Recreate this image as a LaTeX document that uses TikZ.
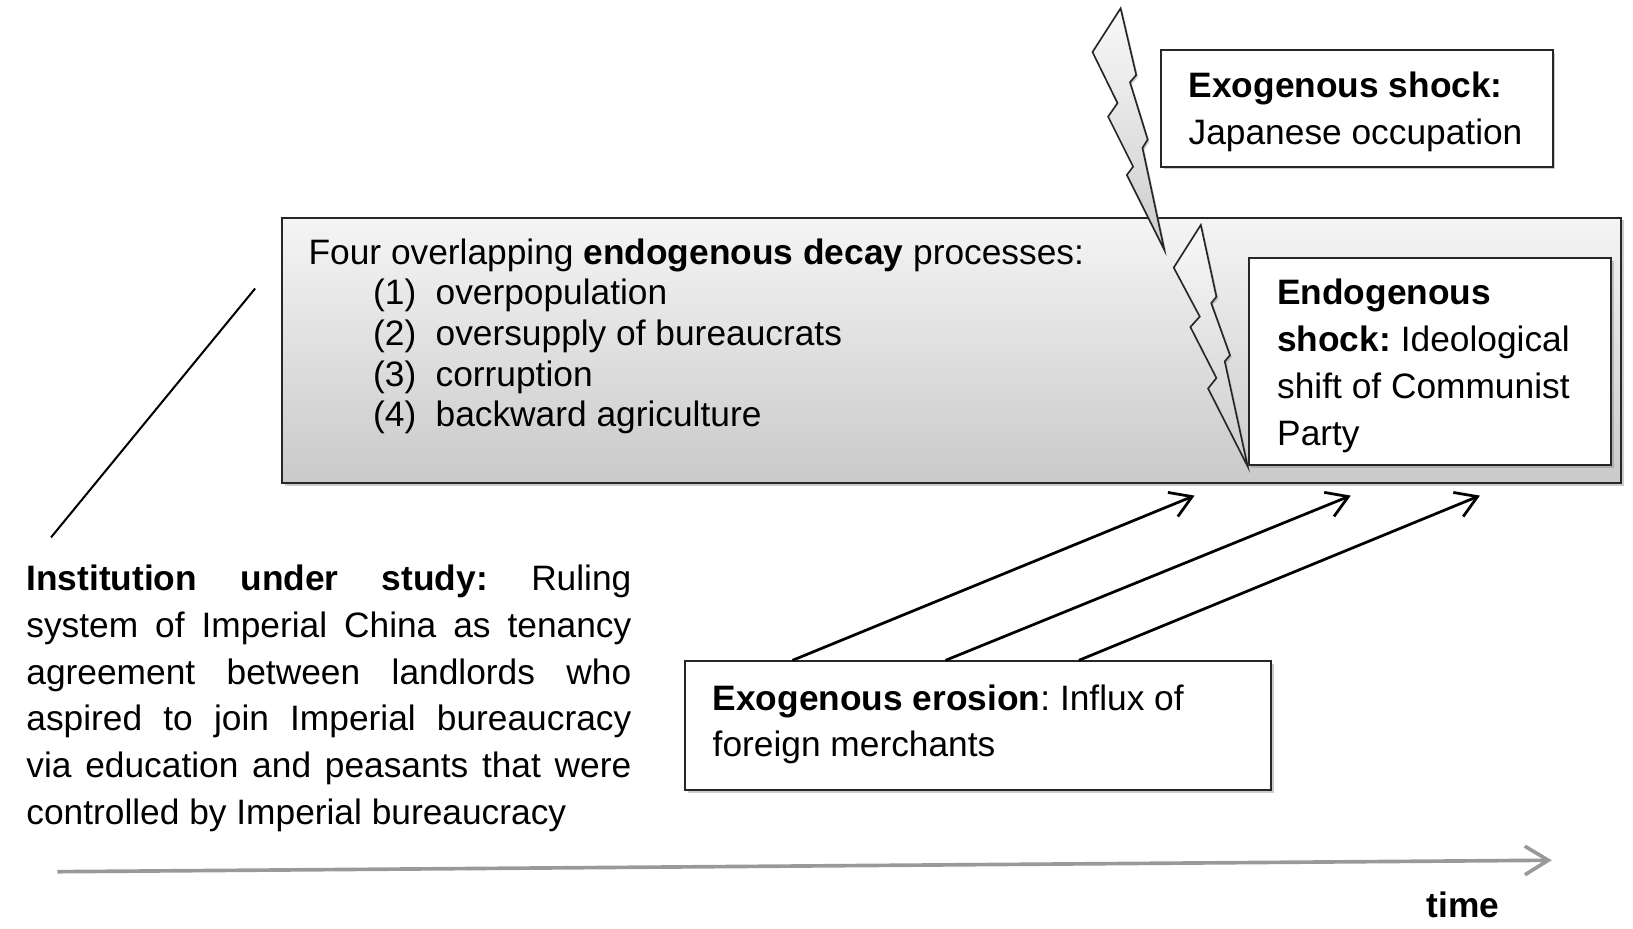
\documentclass[tikz,border=0pt]{standalone}
\usepackage{fontspec}
\setmainfont{Liberation Sans}
\usetikzlibrary{positioning,calc,arrows.meta,shadows}
\frenchspacing

\newcommand{\decayitem}[2]{\hspace*{1.24cm}\makebox[1.2cm][l]{(#1)}#2}

\begin{document}
\begin{tikzpicture}[x=0.02cm, y=-0.02cm,
    box/.style={draw=black!85, line width=1.1pt, fill=white, anchor=north west, inner sep=0pt,
      drop shadow={shadow xshift=1.5pt, shadow yshift=-1.5pt, opacity=0.4}},
    decaybox/.style={box, top color=gray!8, bottom color=gray!42},
    txt/.style={anchor=west, inner sep=0pt, align=left, font=\fontsize{19.3pt}{25.6pt}\selectfont},
    bolt/.style={draw=black!85, line width=0.9pt, top color=gray!5, bottom color=gray!40,
      drop shadow={shadow xshift=1pt, shadow yshift=-1pt, opacity=0.4}},
    push/.style={-{Straight Barb[length=4mm,width=5mm]}, line width=1.5pt},
    timeline/.style={-{Straight Barb[length=4.5mm,width=5.5mm]}, draw=black!40, line width=2pt}]
  \useasboundingbox (0,0) rectangle (1568,892);

  % boxes
  \node[decaybox, minimum width=25.72cm, minimum height=5.1cm] (decay) at (270,208) {};
  \node[box, minimum width=7.52cm, minimum height=2.24cm] (exoshock) at (1114,47) {};
  \node[box, minimum width=6.96cm, minimum height=3.98cm] (endoshock) at (1198,247) {};
  \node[box, minimum width=11.26cm, minimum height=2.48cm] (erosion) at (657,634) {};

  % lightning
  \draw[bolt] (1076,8) -- (1091,72) -- (1085,79) -- (1102,134) -- (1097,142) -- (1118,240)
    -- (1082,168) -- (1088,160) -- (1064,112) -- (1073,99) -- (1049,50) -- cycle;
  \draw[bolt] (1153,216) -- (1168,285) -- (1163,291) -- (1181,341) -- (1176,347) -- (endoshock.south west)
    -- (1160,373) -- (1168,363) -- (1143,314) -- (1152,304) -- (1127,257) -- cycle;

  % texts
  \node[txt, font=\fontsize{19.3pt}{22.2pt}\selectfont] (decaytxt) at (296,323)
    {Four overlapping \textbf{endogenous decay} processes:\\
     \decayitem{1}{overpopulation}\\
     \decayitem{2}{oversupply of bureaucrats}\\
     \decayitem{3}{corruption}\\
     \decayitem{4}{backward agriculture}};
  \node[txt] (exotxt) at (1141,107.5) {\textbf{Exogenous shock:}\\Japanese occupation};
  \node[txt] (endotxt) at (1226,351.5)
    {\textbf{Endogenous}\\\textbf{shock:} Ideological\\shift of Communist\\Party};
  \node[txt] (erotxt) at (684,695.5) {\textbf{Exogenous erosion}: Influx of\\foreign merchants};
  \node[txt, text width=11.62cm, align=justify] (insttxt) at (25,670.5)
    {\textbf{Institution under study:} Ruling\linebreak
     system of Imperial China as tenancy\linebreak
     agreement between landlords who\linebreak
     aspired to join Imperial bureaucracy\linebreak
     via education and peasants that were\linebreak
     controlled by Imperial bureaucracy};

  % connectors
  \coordinate (lineA) at (245,277);
  \coordinate (lineB) at (49,516);
  \draw[line width=1.1pt] (lineA) -- (lineB);
  \foreach \s/\e in {104/877, 251/1027, 379/1151}
    \draw[push] ($(erosion.north west)+(\s,0)$) -- ($(decay.south west)+(\e,11)$);

  % time axis
  \coordinate (t0) at (55,837);
  \coordinate (t1) at (1490,826);
  \draw[timeline] (t0) -- (t1);
  \node[txt, anchor=center, font=\bfseries\fontsize{19.3pt}{22pt}\selectfont] (timelbl) at (1405,869) {time};
\end{tikzpicture}
\end{document}
